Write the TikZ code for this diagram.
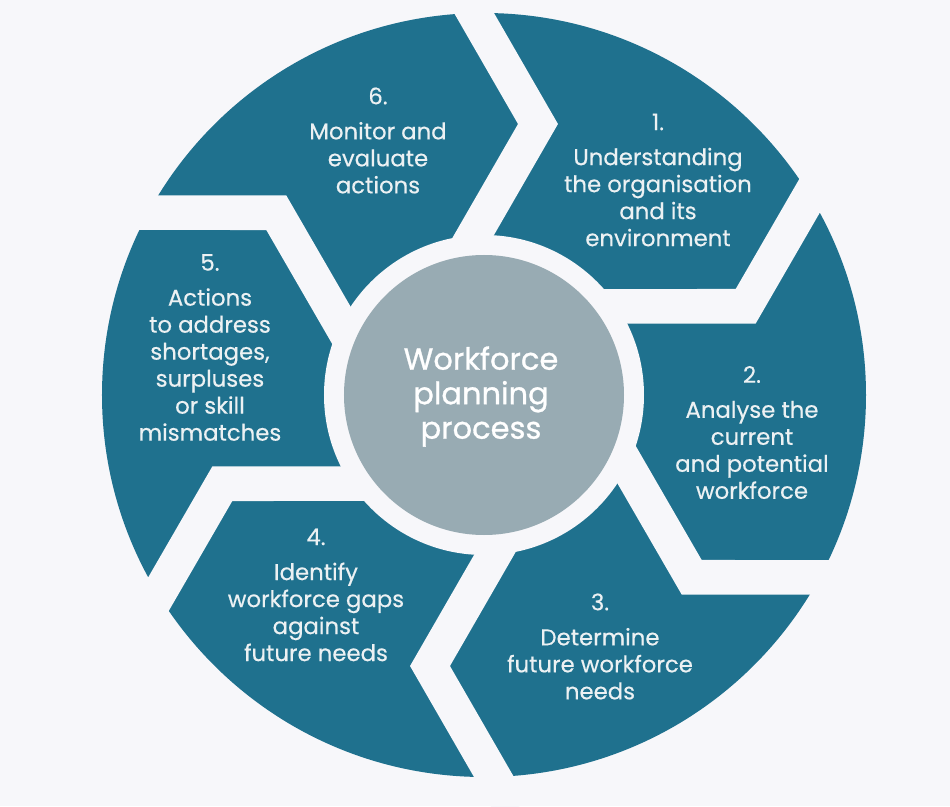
\documentclass[tikz,border=0pt]{standalone}
\usepackage{fontspec}
\setmainfont{Poppins}
\newfontfamily\segfont[FakeBold=0.4]{Poppins}
\newfontfamily\hubfont[FakeBold=0.9]{Poppins}
\usetikzlibrary{calc}
\definecolor{segcol}{RGB}{31,113,142}
\definecolor{bgcol}{RGB}{247,247,250}
\definecolor{hubcol}{RGB}{152,171,179}
\definecolor{txtcol}{RGB}{236,241,243}
\begin{document}
\begin{tikzpicture}[x=1pt,y=1pt,
  gapline/.style={draw=bgcol,line width=34.6pt,line join=miter,line cap=butt},
  seglabel/.style={text=txtcol,align=center,inner sep=0pt,font=\segfont\fontsize{22.8}{27}\selectfont},
  hublabel/.style={text=white,align=center,inner sep=0pt,font=\hubfont\fontsize{30.5}{34.5}\selectfont}]
\useasboundingbox (-484,-411) rectangle (466,395);
\fill[bgcol] (-484,-411) rectangle (466,395);
\fill[segcol] (0,0) circle[radius=382];
\foreach \t in {90,30,-30,-90,-150,150}{
  \draw[gapline] ($(\t:127)+(\t+90:29)$) -- ($(\t:271)+(\t-90:54)$) -- ($(\t:415)+(\t+90:29)$);
}
\fill[bgcol] (0,0) circle[radius=160];
\fill[hubcol] (0,0) circle[radius=140];
\node[hublabel] (hub) at (-3,-1.5) {Workforce\\planning\\process};
\node[seglabel] (s1) at (174,215) {1.\\[8pt]Understanding\\the organisation\\and its\\environment};
\node[seglabel] (s2) at (268,-37.5) {2.\\[8pt]Analyse the\\current\\and potential\\workforce};
\node[seglabel] (s3) at (116,-251.5) {3.\\[8pt]Determine\\future workforce\\needs};
\node[seglabel] (s4) at (-168,-200) {4.\\[8pt]Identify\\workforce gaps\\against\hspace*{16pt}\\future needs};
\node[seglabel] (s5) at (-274,47.5) {5.\\[8pt]Actions\\to address\\shortages,\\surpluses\\or skill\\mismatches};
\node[seglabel] (s6) at (-106,254.5) {6.\\[8pt]Monitor and\\evaluate\\actions};
\end{tikzpicture}
\end{document}
